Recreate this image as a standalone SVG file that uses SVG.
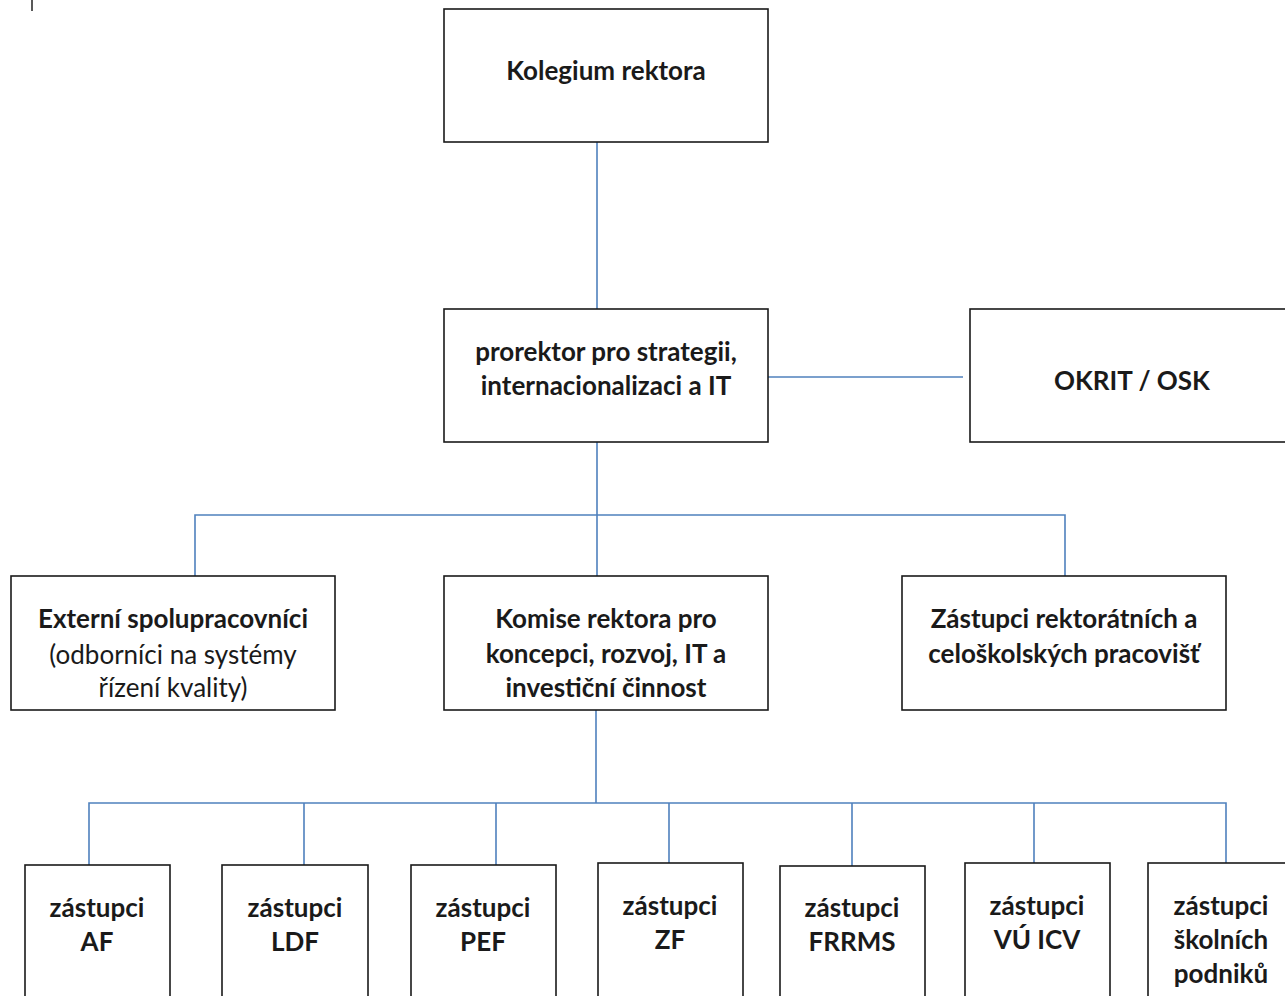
<svg xmlns="http://www.w3.org/2000/svg" width="1285" height="996" viewBox="0 0 1285 996">
<style>
.box{fill:#fff;stroke:#1a1a1a;stroke-width:1.6}
.t{font-family:Lato,"Open Sans","Liberation Sans",sans-serif;font-size:26px;font-weight:700;fill:#1a1a1a;text-anchor:middle}
.r{font-weight:400}
.c{fill:none;stroke:#4f81bd;stroke-width:1.6}
</style>
<rect width="1285" height="996" fill="#fff"/>
<line x1="32" y1="0" x2="32" y2="11" stroke="#222" stroke-width="1.5"/>
<g id="connectors">
<path class="c" d="M597 142V309"/>
<path class="c" d="M768 377H963"/>
<path class="c" d="M597 442V515M195 576V515H1065V576M597 515V576"/>
<path class="c" d="M596 710V803M89 865V803H1226V865M304 803V865M496 803V865M669 803V863M852 803V866M1034 803V863"/>
</g>
<g id="kolegium"><rect class="box" x="444" y="9" width="324" height="133"/><text class="t" x="606" y="80">Kolegium rektora</text></g>
<g id="prorektor"><rect class="box" x="444" y="309" width="324" height="133"/><text class="t" x="606" y="361">prorektor pro strategii,</text><text class="t" x="606" y="395">internacionalizaci a IT</text></g>
<g id="okrit"><rect class="box" x="970" y="309" width="330" height="133"/><text class="t" x="1132" y="390">OKRIT / OSK</text></g>
<g id="externi"><rect class="box" x="11" y="576" width="324" height="134"/><text class="t" x="173" y="628">Externí spolupracovníci</text><text class="t r" x="173" y="664">(odborníci na systémy</text><text class="t r" x="173" y="697">řízení kvality)</text></g>
<g id="komise"><rect class="box" x="444" y="576" width="324" height="134"/><text class="t" x="606" y="628">Komise rektora pro</text><text class="t" x="606" y="663">koncepci, rozvoj, IT a</text><text class="t" x="606" y="697">investiční činnost</text></g>
<g id="zastupci-rekt"><rect class="box" x="902" y="576" width="324" height="134"/><text class="t" x="1064" y="628">Zástupci rektorátních a</text><text class="t" x="1064" y="663">celoškolských pracovišť</text></g>
<g id="af"><rect class="box" x="25" y="865" width="145" height="140"/><text class="t" x="97" y="917">zástupci</text><text class="t" x="97" y="951">AF</text></g>
<g id="ldf"><rect class="box" x="222" y="865" width="146" height="140"/><text class="t" x="295" y="917">zástupci</text><text class="t" x="295" y="951">LDF</text></g>
<g id="pef"><rect class="box" x="411" y="865" width="145" height="140"/><text class="t" x="483" y="917">zástupci</text><text class="t" x="483" y="951">PEF</text></g>
<g id="zf"><rect class="box" x="598" y="863" width="145" height="140"/><text class="t" x="670" y="915">zástupci</text><text class="t" x="670" y="949">ZF</text></g>
<g id="frrms"><rect class="box" x="780" y="866" width="145" height="140"/><text class="t" x="852" y="917">zástupci</text><text class="t" x="852" y="951">FRRMS</text></g>
<g id="vu"><rect class="box" x="965" y="863" width="145" height="140"/><text class="t" x="1037" y="915">zástupci</text><text class="t" x="1037" y="949">VÚ ICV</text></g>
<g id="skolni"><rect class="box" x="1148" y="863" width="145" height="140"/><text class="t" x="1221" y="915">zástupci</text><text class="t" x="1221" y="949">školních</text><text class="t" x="1221" y="983">podniků</text></g>
</svg>
